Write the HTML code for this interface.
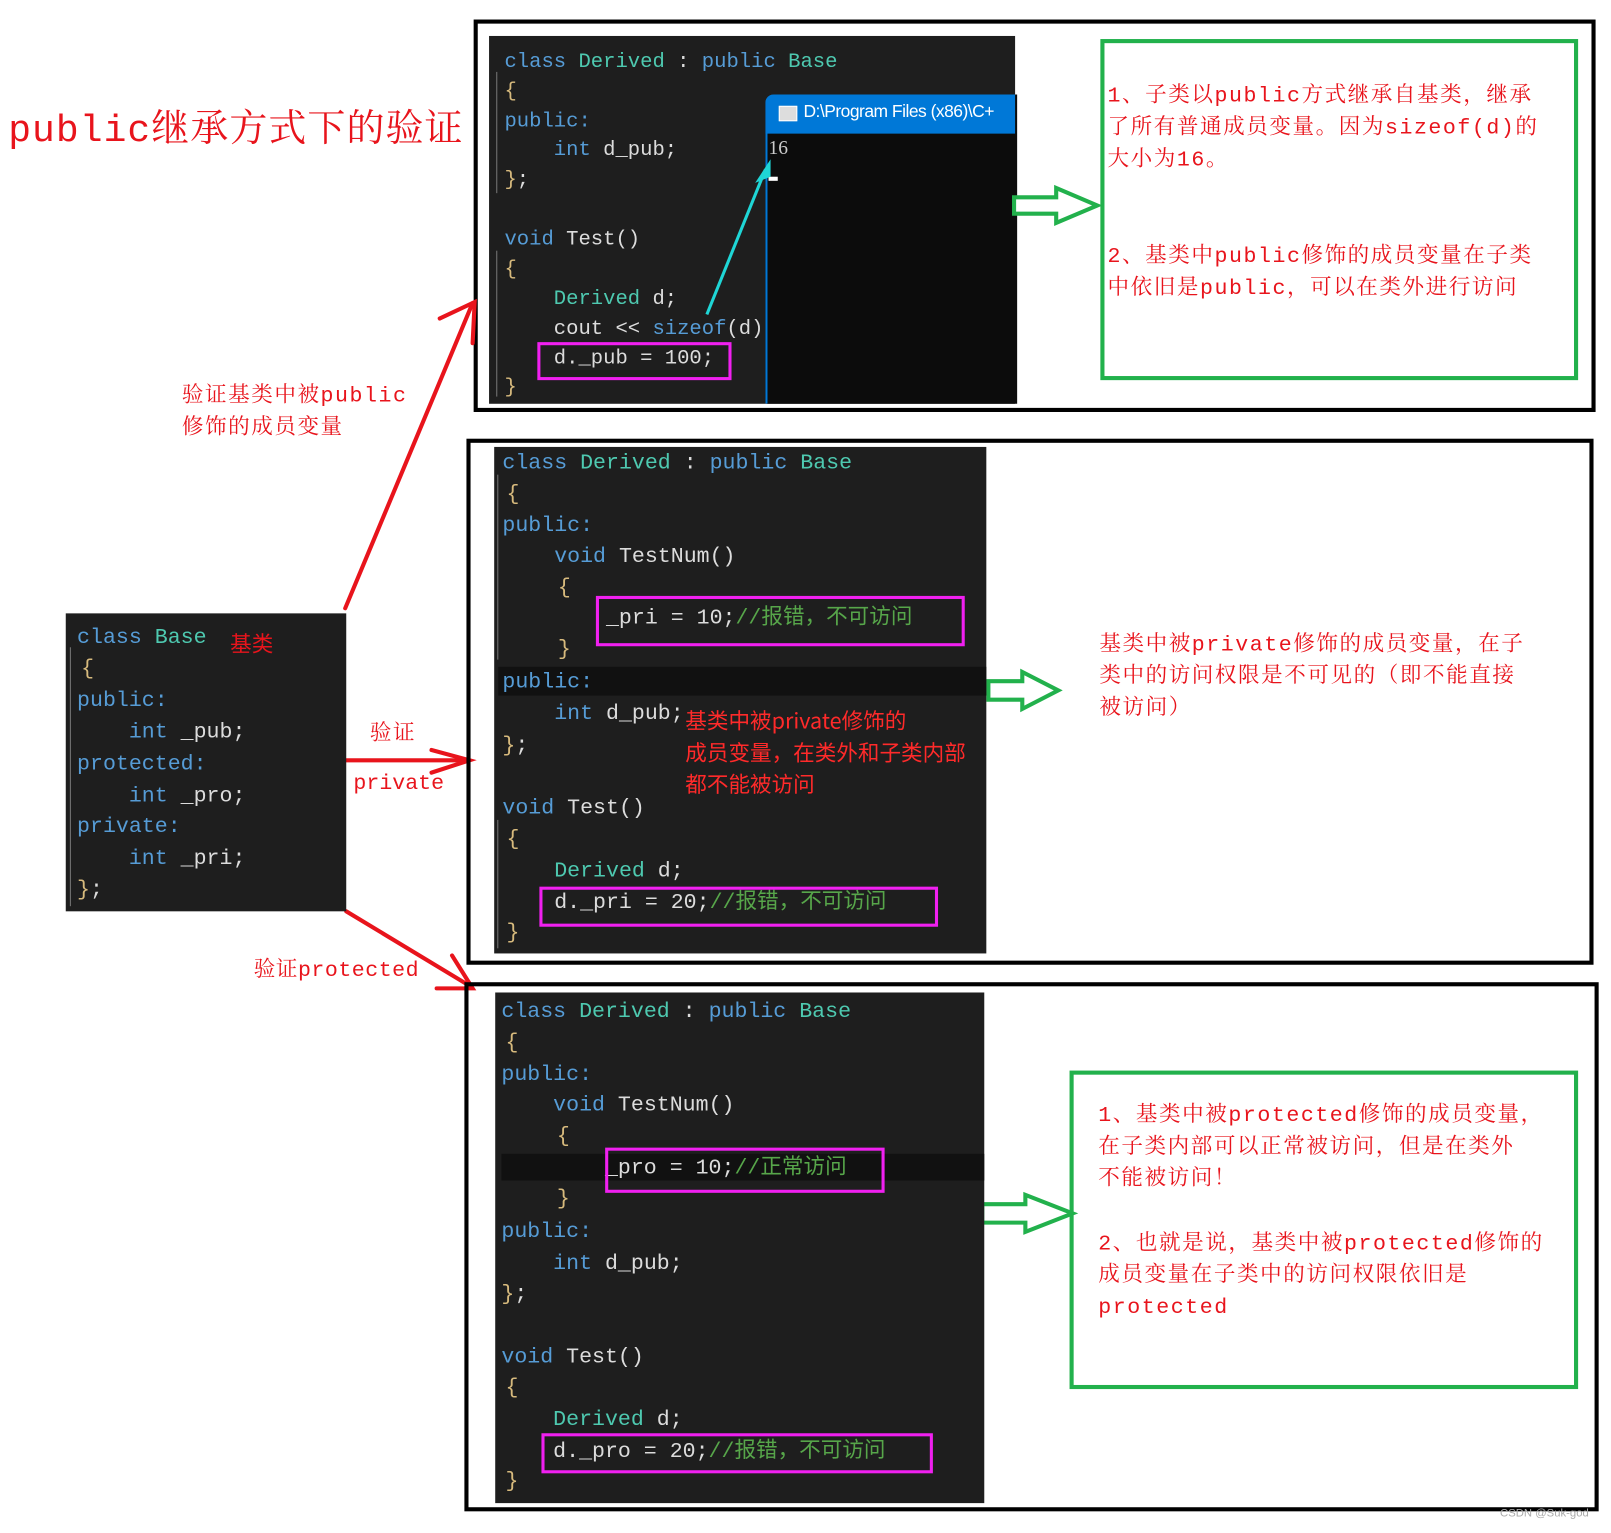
<!DOCTYPE html>
<html><head><meta charset="utf-8"><style>
html,body{margin:0;padding:0;background:#fff;width:1611px;height:1532px;overflow:hidden}
#w{position:absolute;left:0;top:0;width:1568px;height:1492px;transform:scale(1.02742);transform-origin:0 0}
.a{position:absolute}
.code{background:#1e1e1e}
.l{position:absolute;white-space:pre;font-family:"Liberation Mono","Noto Sans CJK SC",monospace;font-size:20px;line-height:24px;color:#dcdcdc}
.k{color:#569cd6}.t{color:#4ec9b0}.c{color:#57a64a}.b{color:#d7ba7d}
.mag{position:absolute;border:3px solid #f020f0}
.gbox{position:absolute;border:4px solid #22b14c}
.blk{position:absolute;border:4px solid #000}
.red{color:#e8141c;font-family:"Liberation Mono","Noto Serif CJK SC",serif}
.gt{position:absolute;font-family:"Liberation Mono","Noto Serif CJK SC",serif;font-size:21px;line-height:31px;color:#e8141c;white-space:nowrap;letter-spacing:1.5px}
.gut{position:absolute;width:1px;background:#777}
</style></head><body><div id="w">

<div class="a red" style="left:8px;top:94px;font-size:37px;white-space:nowrap;letter-spacing:1px">public继承方式下的验证</div>

<!-- Panel 1 -->
<div class="blk" style="left:461px;top:19px;width:1084px;height:374px"></div>
<div class="a code" style="left:476px;top:35px;width:512px;height:358px"></div>
<div class="gut" style="left:483px;top:70px;height:118px"></div>
<div class="gut" style="left:483px;top:244px;height:142px"></div>
<div class="l" style="left:491px;top:49px"><span class="k">class</span> <span class="t">Derived</span> : <span class="k">public</span> <span class="t">Base</span></div>
<div class="l b" style="left:491px;top:78px">{</div>
<div class="l k" style="left:491px;top:107px">public:</div>
<div class="l" style="left:491px;top:135px">    <span class="k">int</span> d_pub;</div>
<div class="l" style="left:491px;top:164px"><span class="b">}</span>;</div>
<div class="l" style="left:491px;top:222px"><span class="k">void</span> Test()</div>
<div class="l b" style="left:491px;top:251px">{</div>
<div class="l" style="left:491px;top:280px">    <span class="t">Derived</span> d;</div>
<div class="l" style="left:491px;top:309px">    cout &lt;&lt; <span class="k">sizeof</span>(d)</div>
<div class="l" style="left:491px;top:338px">    d._pub = 100;</div>
<div class="l b" style="left:491px;top:366px">}</div>
<div class="mag" style="left:523px;top:333px;width:183px;height:31px"></div>
<div class="a" style="left:745px;top:92px;width:243px;height:301px;background:#0c0c0c;border-left:2px solid #0078d7;border-radius:8px 0 0 0"></div>
<div class="a" style="left:745px;top:92px;width:243px;height:38px;background:#0078d7;border-radius:8px 0 0 0"></div>
<div class="a" style="left:758px;top:103px;width:16px;height:13px;background:#ddd;border:1px solid #fff"></div>
<div class="a" style="left:782px;top:99px;color:#fff;font:17px 'Liberation Sans',sans-serif;white-space:nowrap;overflow:hidden;width:206px;letter-spacing:-0.5px">D:\Program Files (x86)\C+</div>
<div class="a" style="left:748px;top:134px;color:#ccc;font:19px 'Liberation Serif',serif">16</div>
<div class="a" style="left:748px;top:172px;width:9px;height:4px;background:#fff"></div>
<svg class="a" style="left:0;top:0" width="1568" height="1492">
<path d="M688 306 L745 165" stroke="#1fd6d6" stroke-width="3"/>
<path d="M750 155 L735 178 L750 172 Z" fill="#1fd6d6"/>
<g stroke="#e8141c" stroke-width="4" fill="none" stroke-linecap="round">
<path d="M336 592 L460 295"/><path d="M428 310 L462 294 L460 334"/>
<path d="M337 740 L457 740"/><path d="M420 730 L457 740 L420 752"/>
<path d="M337 887 L458 960"/><path d="M425 962 L460 962 L440 930"/>
</g>
<g stroke="#22b14c" stroke-width="4" fill="#fff">
<path d="M987 192 L1028 192 L1028 183 L1068 200 L1028 217 L1028 208 L987 208 Z"/>
<path d="M962 663 L995 663 L995 654 L1030 672 L995 690 L995 681 L962 681 Z"/>
<path d="M956 1172 L998 1172 L998 1163 L1044 1181 L998 1199 L998 1190 L956 1190 Z"/>
</g>
</svg>
<div class="gbox" style="left:1071px;top:38px;width:457px;height:324px"></div>
<div class="gt" style="left:1078px;top:79px">1、子类以public方式继承自基类，继承<br>了所有普通成员变量。因为sizeof(d)的<br>大小为16。</div>
<div class="gt" style="left:1078px;top:235px">2、基类中public修饰的成员变量在子类<br>中依旧是public，可以在类外进行访问</div>

<div class="gt" style="left:177px;top:371px">验证基类中被public<br>修饰的成员变量</div>

<!-- Base -->
<div class="a code" style="left:64px;top:597px;width:273px;height:290px"></div>
<div class="gut" style="left:68px;top:630px;height:252px"></div>
<div class="l" style="left:75px;top:610px;font-size:21px"><span class="k">class</span> <span class="t">Base</span></div>
<div class="a" style="left:224px;top:611px;color:#e8141c;font:21px 'Noto Sans CJK SC',sans-serif">基类</div>
<div class="l b" style="left:79px;top:640px;font-size:21px">{</div>
<div class="l k" style="left:75px;top:671px;font-size:21px">public:</div>
<div class="l" style="left:75px;top:702px;font-size:21px">    <span class="k">int</span> _pub;</div>
<div class="l k" style="left:75px;top:733px;font-size:21px">protected:</div>
<div class="l" style="left:75px;top:764px;font-size:21px">    <span class="k">int</span> _pro;</div>
<div class="l k" style="left:75px;top:794px;font-size:21px">private:</div>
<div class="l" style="left:75px;top:825px;font-size:21px">    <span class="k">int</span> _pri;</div>
<div class="l" style="left:75px;top:855px;font-size:21px"><span class="b">}</span>;</div>
<div class="gt" style="left:360px;top:700px">验证</div>
<div class="gt" style="left:344px;top:748px;letter-spacing:0">private</div>
<div class="gt" style="left:247px;top:930px;letter-spacing:0.5px">验证protected</div>

<!-- Panel 2 -->
<div class="blk" style="left:454px;top:427px;width:1089px;height:504px"></div>
<div class="a code" style="left:481px;top:435px;width:479px;height:493px"></div>
<div class="a" style="left:485px;top:649px;width:475px;height:28px;background:#111"></div>
<div class="gut" style="left:484px;top:462px;height:180px"></div>
<div class="gut" style="left:484px;top:798px;height:125px"></div>
<div class="l" style="left:489px;top:440px;font-size:21px"><span class="k">class</span> <span class="t">Derived</span> : <span class="k">public</span> <span class="t">Base</span></div>
<div class="l b" style="left:493px;top:470px;font-size:21px">{</div>
<div class="l k" style="left:489px;top:501px;font-size:21px">public:</div>
<div class="l" style="left:489px;top:531px;font-size:21px">    <span class="k">void</span> TestNum()</div>
<div class="l b" style="left:543px;top:561px;font-size:21px">{</div>
<div class="l" style="left:489px;top:591px;font-size:21px">        _pri = 10;<span class="c">//报错，不可访问</span></div>
<div class="l b" style="left:543px;top:621px;font-size:21px">}</div>
<div class="l k" style="left:489px;top:653px;font-size:21px">public:</div>
<div class="l" style="left:489px;top:684px;font-size:21px">    <span class="k">int</span> d_pub;</div>
<div class="l" style="left:489px;top:715px;font-size:21px"><span class="b">}</span>;</div>
<div class="l" style="left:489px;top:776px;font-size:21px"><span class="k">void</span> Test()</div>
<div class="l b" style="left:493px;top:806px;font-size:21px">{</div>
<div class="l" style="left:489px;top:837px;font-size:21px">    <span class="t">Derived</span> d;</div>
<div class="l" style="left:489px;top:868px;font-size:21px">    d._pri = 20;<span class="c">//报错，不可访问</span></div>
<div class="l b" style="left:493px;top:897px;font-size:21px">}</div>
<div class="mag" style="left:580px;top:580px;width:353px;height:43px"></div>
<div class="mag" style="left:525px;top:863px;width:382px;height:33px"></div>
<div class="a" style="left:667px;top:686px;white-space:nowrap;color:#ff2a2a;font:21px/31px 'Noto Sans CJK SC',sans-serif">基类中被private修饰的<br>成员变量，在类外和子类内部<br>都不能被访问</div>
<div class="gt" style="left:1070px;top:613px">基类中被private修饰的成员变量，在子<br>类中的访问权限是不可见的（即不能直接<br>被访问）</div>

<!-- Panel 3 -->
<div class="blk" style="left:452px;top:956px;width:1096px;height:507px"></div>
<div class="a code" style="left:482px;top:966px;width:476px;height:497px"></div>
<div class="a" style="left:488px;top:1123px;width:470px;height:26px;background:#111"></div>
<div class="l" style="left:488px;top:974px;font-size:21px"><span class="k">class</span> <span class="t">Derived</span> : <span class="k">public</span> <span class="t">Base</span></div>
<div class="l b" style="left:492px;top:1004px;font-size:21px">{</div>
<div class="l k" style="left:488px;top:1035px;font-size:21px">public:</div>
<div class="l" style="left:488px;top:1065px;font-size:21px">    <span class="k">void</span> TestNum()</div>
<div class="l b" style="left:542px;top:1095px;font-size:21px">{</div>
<div class="l" style="left:488px;top:1126px;font-size:21px">        _pro = 10;<span class="c">//正常访问</span></div>
<div class="l b" style="left:542px;top:1156px;font-size:21px">}</div>
<div class="l k" style="left:488px;top:1188px;font-size:21px">public:</div>
<div class="l" style="left:488px;top:1219px;font-size:21px">    <span class="k">int</span> d_pub;</div>
<div class="l" style="left:488px;top:1249px;font-size:21px"><span class="b">}</span>;</div>
<div class="l" style="left:488px;top:1310px;font-size:21px"><span class="k">void</span> Test()</div>
<div class="l b" style="left:492px;top:1340px;font-size:21px">{</div>
<div class="l" style="left:488px;top:1371px;font-size:21px">    <span class="t">Derived</span> d;</div>
<div class="l" style="left:488px;top:1402px;font-size:21px">    d._pro = 20;<span class="c">//报错，不可访问</span></div>
<div class="l b" style="left:492px;top:1431px;font-size:21px">}</div>
<div class="mag" style="left:589px;top:1117px;width:266px;height:38px"></div>
<div class="mag" style="left:527px;top:1395px;width:375px;height:33px"></div>
<div class="gbox" style="left:1041px;top:1042px;width:487px;height:302px"></div>
<div class="gt" style="left:1069px;top:1071px">1、基类中被protected修饰的成员变量，<br>在子类内部可以正常被访问，但是在类外<br>不能被访问！</div>
<div class="gt" style="left:1069px;top:1196px">2、也就是说，基类中被protected修饰的<br>成员变量在子类中的访问权限依旧是<br>protected</div>

<div class="a" style="left:1460px;top:1467px;color:#aaa;font:11px 'Liberation Sans',sans-serif">CSDN @Suk-god</div>
</div></body></html>
